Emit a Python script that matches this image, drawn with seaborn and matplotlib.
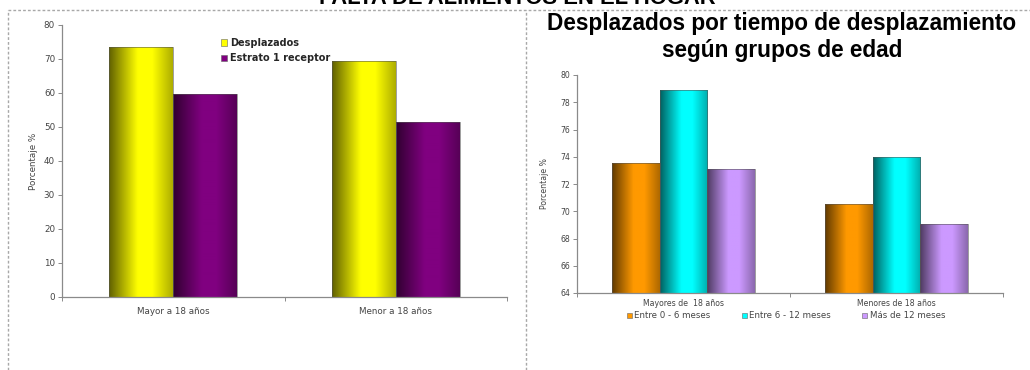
import numpy as np
import pandas as pd
import matplotlib
matplotlib.use("Agg")
import matplotlib.pyplot as plt
import seaborn as sns
from matplotlib.colors import to_rgb
from matplotlib.patches import Patch
from matplotlib.lines import Line2D

# ---- data ----
left_groups = ["Mayor a 18 años", "Menor a 18 años"]
left_series = ["Desplazados", "Estrato 1 receptor"]
desplazados = [73.4, 69.4]
estrato1 = [59.6, 51.6]

right_groups = ["Mayores de  18 años", "Menores de 18 años"]
right_series = ["Entre 0 - 6 meses", "Entre 6 - 12 meses", "Más de 12 meses"]
entre_0_6 = [73.55, 70.5]
entre_6_12 = [78.9, 73.95]
mas_12 = [73.1, 69.05]

main_title = "FALTA DE ALIMENTOS EN EL HOGAR"
right_title_lines = ["Desplazados por tiempo de desplazamiento", "según grupos de edad"]
ylabel = "Porcentaje %"

left_colors = ["#FFFF00", "#800080"]
right_colors = ["#FF9900", "#00FFFF", "#CC99FF"]

df_left = pd.DataFrame({
    "grupo": left_groups * 2,
    "serie": [left_series[0]] * 2 + [left_series[1]] * 2,
    "valor": desplazados + estrato1,
})
df_right = pd.DataFrame({
    "grupo": right_groups * 3,
    "serie": [right_series[0]] * 2 + [right_series[1]] * 2 + [right_series[2]] * 2,
    "valor": entre_0_6 + entre_6_12 + mas_12,
})

sns.set_theme(style="white")
plt.rcParams["font.family"] = ["DejaVu Sans"]

W, H = 1030, 370
fig = plt.figure(figsize=(W / 100, H / 100), dpi=100)
fig.patch.set_facecolor("white")


def px_axes(x0, x1, ytop, ybot):
    return fig.add_axes([x0 / W, (H - ybot) / H, (x1 - x0) / W, (ybot - ytop) / H])


def cylinder_shade(base):
    """Horizontal dark-bright-dark ramp giving bars a rounded look."""
    rgb = np.array(to_rgb(base))
    t = np.linspace(0, 1, 128)
    f = np.interp(t, [0, 0.45, 0.68, 1], [0.38, 1.0, 1.0, 0.68])
    return np.clip(rgb[None, :] * f[:, None], 0, 1)[None, :, :]


def apply_gradients(ax, colors):
    xl, yl = ax.get_xlim(), ax.get_ylim()
    for patch in list(ax.patches):
        fc = np.array(patch.get_facecolor()[:3])
        idx = int(np.argmin([np.sum((fc - np.array(to_rgb(c))) ** 2) for c in colors]))
        x0, y0 = patch.get_x(), patch.get_y()
        w, h = patch.get_width(), patch.get_height()
        ylo = max(y0, yl[0])
        im = ax.imshow(cylinder_shade(colors[idx]), extent=[x0, x0 + w, ylo, y0 + h],
                       aspect="auto", interpolation="bilinear", zorder=patch.get_zorder())
        im.set_clip_path(patch)
        patch.set_facecolor("none")
        patch.set_edgecolor("#555555")
        patch.set_linewidth(0.4)
        patch.set_zorder(patch.get_zorder() + 0.1)
    ax.set_xlim(xl)
    ax.set_ylim(yl)


def style_axes(ax, ticksize, ylab_size):
    for s in ["top", "right"]:
        ax.spines[s].set_visible(False)
    for s in ["left", "bottom"]:
        ax.spines[s].set_color("#8a8a8a")
        ax.spines[s].set_linewidth(0.9)
        ax.spines[s].set_zorder(5)
    ax.tick_params(axis="y", which="major", length=3, width=0.7, color="#8a8a8a",
                   labelsize=ticksize, labelcolor="#444444", pad=2, left=True)
    ax.tick_params(axis="x", which="major", length=0, labelsize=ticksize,
                   labelcolor="#444444")
    ax.set_xticks([-0.5, 0.5, 1.5], minor=True)
    ax.tick_params(axis="x", which="minor", length=3, width=0.7, color="#8a8a8a", bottom=True)
    ax.set_xlabel("")
    ax.set_ylabel(ylabel, fontsize=ylab_size, color="#444444")
    ax.grid(False)


# ---- left chart ----
axL = px_axes(62, 507, 25, 297)
sns.barplot(data=df_left, x="grupo", y="valor", hue="serie", hue_order=left_series,
            palette=left_colors, width=0.575, ax=axL, legend=False, saturation=1)
axL.set_ylim(0, 80)
axL.set_xlim(-0.5, 1.5)
axL.set_yticks(np.arange(0, 81, 10))
style_axes(axL, 6.3, 6.3)
axL.tick_params(axis="x", which="major", pad=7)
axL.yaxis.set_label_coords(-0.055, 0.5)
apply_gradients(axL, left_colors)

handles_L = [Patch(facecolor=c, edgecolor="#666666", linewidth=0.4) for c in left_colors]
fig.legend(handles_L, left_series, loc="upper left",
           bbox_to_anchor=(217 / W, (H - 34) / H), frameon=False,
           prop={"weight": "bold", "size": 7}, handlelength=0.65, handleheight=0.65,
           handletextpad=0.3, labelspacing=0.55, borderaxespad=0)

# ---- right chart ----
axR = px_axes(577, 1003, 75, 293)
sns.barplot(data=df_right, x="grupo", y="valor", hue="serie", hue_order=right_series,
            palette=right_colors, width=0.667, ax=axR, legend=False, saturation=1)
axR.set_ylim(64, 80)
axR.set_xlim(-0.5, 1.5)
axR.set_yticks(np.arange(64, 81, 2))
style_axes(axR, 5.6, 5.6)
axR.tick_params(axis="x", which="major", pad=4)
axR.yaxis.set_label_coords(-0.065, 0.5)
apply_gradients(axR, right_colors)

handles_R = [Patch(facecolor=c, edgecolor="#666666", linewidth=0.4) for c in right_colors]
leg = fig.legend(handles_R, right_series, loc="center",
                 bbox_to_anchor=(786 / W, (H - 316) / H), ncol=3, frameon=False,
                 prop={"size": 6.2}, handlelength=0.6, handleheight=0.6,
                 handletextpad=0.3, columnspacing=3.6, borderaxespad=0)
for txt in leg.get_texts():
    txt.set_color("#444444")

# ---- titles ----
fig.text(517 / W, (H - 4.5) / H, main_title, ha="center", va="baseline",
         fontsize=15.8, fontweight="bold", family="Liberation Sans", color="black")
for line, base in zip(right_title_lines, [30, 57]):
    fig.text(782 / W, (H - base) / H, line, ha="center", va="baseline",
             fontsize=16.3, fontweight="bold", family="Liberation Sans", color="black")

# ---- dashed frames ----
dash = dict(color="#a8a8a8", lw=1.0, ls=(0, (2, 1.5)), transform=fig.transFigure)
fig.add_artist(Line2D([8 / W, 1], [(H - 10) / H] * 2, **dash))
fig.add_artist(Line2D([8 / W] * 2, [0, (H - 10) / H], **dash))
fig.add_artist(Line2D([526 / W] * 2, [0, (H - 10) / H], **dash))

fig.savefig("out.png", dpi=100, facecolor="white")
